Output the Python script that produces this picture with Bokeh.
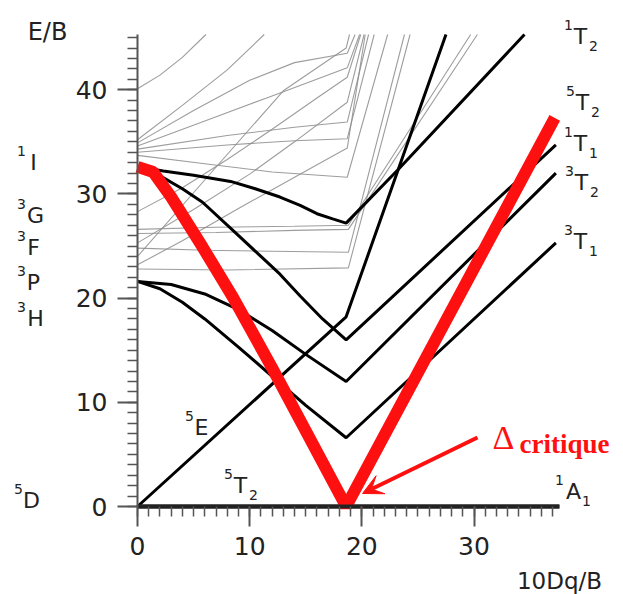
from bokeh.plotting import figure
from bokeh.models import Range1d, Label, Arrow, VeeHead, FixedTicker
from bokeh.embed import file_html
from bokeh.resources import INLINE

# ---------------- data ----------------
x_ticks = [0, 10, 20, 30]
y_ticks = [0, 10, 20, 30, 40]
x_minor = list(range(0, 38))
y_minor = list(range(0, 46))

ground_x = [0, 37.6]
ground_y = [0, 0]

e5_x = [0, 18.6, 27.5]
e5_y = [0, 18.2, 45.3]

t2s1_x = [0, 2.3, 5, 8.3, 10.5, 12.7, 14.5, 16.0, 17.4, 18.6, 23.2, 34.5]
t2s1_y = [32.6, 32.2, 31.8, 31.2, 30.5, 29.7, 28.9, 28.1, 27.6, 27.2, 32.3, 45.3]

t1s1_x = [0, 1.9, 4, 5.8, 8.7, 11.0, 12.7, 14.5, 16.5, 18.6, 37.3]
t1s1_y = [32.6, 31.8, 30.5, 29.2, 26.3, 24.0, 22.3, 20.2, 18.0, 16.0, 34.7]

t2s3_x = [0, 3, 6, 9, 12, 15, 18.6, 37.3]
t2s3_y = [21.6, 21.3, 20.4, 18.9, 16.9, 14.6, 12.0, 32.0]

t1s3_x = [0, 2, 4, 6, 9, 12, 15, 18.6, 37.3]
t1s3_y = [21.6, 20.9, 19.6, 18.0, 15.3, 12.5, 9.7, 6.6, 25.3]

red_x = [0, 1.4, 3, 5.8, 8.5, 12, 18.6, 37.2]
red_y = [32.6, 32.1, 29.7, 24.9, 20.1, 13.3, 0, 37.3]

g1_x = [0, 2, 4, 6.1];                 g1_y = [40.1, 41.4, 43.1, 45.3]
g2_x = [0, 4, 8, 11.3];                g2_y = [35.2, 38.5, 41.9, 45.3]
g3_x = [0, 5, 10, 14, 18.7, 19.4];     g3_y = [34.9, 38.0, 40.9, 42.6, 43.5, 45.3]
g4_x = [0, 6, 12, 18.7, 19.8];         g4_y = [34.6, 37.0, 39.4, 42.1, 45.3]
g5_x = [0, 8, 14, 18.7, 20.6];         g5_y = [34.3, 35.6, 36.4, 36.9, 45.3]
g6_x = [0, 8, 14, 18.7, 21.1];         g6_y = [34.0, 34.7, 35.1, 35.3, 45.3]
g7_x = [0, 6, 12, 18.7, 22.3];         g7_y = [33.7, 32.9, 32.1, 31.6, 45.3]
g8_x = [0, 4, 8, 12, 16, 18.7, 19.9];  g8_y = [28.3, 30.6, 33.3, 36.2, 39.2, 41.2, 45.3]
g9_x = [0, 5, 10, 14, 18.7, 20.2];     g9_y = [25.3, 28.5, 31.9, 35.0, 38.8, 45.3]
g10_x = [0, 6.7, 13.0, 18.6, 18.9];    g10_y = [24.0, 32.2, 39.9, 44.0, 45.3]
g11_x = [0, 7, 14, 18.8, 29.7];        g11_y = [26.6, 26.8, 26.9, 27.0, 45.3]
g12_x = [0, 7, 14, 18.8, 30.3];        g12_y = [26.2, 26.3, 26.5, 26.6, 45.3]
g13_x = [0, 6, 12, 18.8, 23.8];        g13_y = [24.8, 24.6, 24.5, 24.4, 45.3]
g14_x = [0, 8, 18.8, 24.3];            g14_y = [22.8, 22.7, 22.9, 45.3]
g15_x = [0, 4, 9, 14, 18.7, 20.3];     g15_y = [23.2, 25.5, 28.6, 31.6, 34.4, 45.3]

# ---------------- layout ----------------
W, H = 623, 594
L, R, T, B = 137, 62, 34, 88          # where the data box sits in the canvas
X0, X1 = 0, 37.8
Y0, Y1 = 0, 45.3


def dx(px):
    return X0 + (px - L) / (W - L - R) * (X1 - X0)


def dy(py):
    return Y0 + (H - B - py) / (H - T - B) * (Y1 - Y0)


# the frame covers the whole canvas so that annotations outside the data box are visible
p = figure(width=W, height=H, output_backend="svg", toolbar_location=None,
           x_range=Range1d(dx(0), dx(W)), y_range=Range1d(dy(H), dy(0)),
           min_border_left=0, min_border_right=0, min_border_top=0, min_border_bottom=0)
p.outline_line_color = None
p.xgrid.visible = False
p.ygrid.visible = False
p.background_fill_color = "white"
p.border_fill_color = "white"

p.xaxis.fixed_location = 0
p.yaxis.fixed_location = 0
p.xaxis.bounds = (0, 37.6)
p.yaxis.bounds = (0, 45.3)

for ax, ticks, minor in ((p.xaxis, x_ticks, x_minor), (p.yaxis, y_ticks, y_minor)):
    ax.ticker = FixedTicker(ticks=ticks, minor_ticks=minor)
    ax.major_tick_out = 20
    ax.major_tick_in = 0
    ax.minor_tick_out = 10
    ax.minor_tick_in = 0
    ax.major_label_text_font = "DejaVu Sans"
    ax.major_label_text_font_size = "25px"
    ax.major_label_text_color = "#222222"
    ax.major_label_standoff = 10
    ax.major_tick_line_width = 2
    ax.minor_tick_line_width = 1.5
    ax.major_tick_line_color = "#555555"
    ax.minor_tick_line_color = "#555555"
p.yaxis.axis_line_color = "#555555"
p.yaxis.axis_line_width = 2
p.xaxis.axis_line_color = "#222222"
p.xaxis.axis_line_width = 4

# gray background terms
gxs = [g1_x, g2_x, g3_x, g4_x, g5_x, g6_x, g7_x, g8_x, g9_x, g10_x, g11_x, g12_x, g13_x, g14_x, g15_x]
gys = [g1_y, g2_y, g3_y, g4_y, g5_y, g6_y, g7_y, g8_y, g9_y, g10_y, g11_y, g12_y, g13_y, g14_y, g15_y]
p.multi_line(xs=gxs, ys=gys, line_color="#8c8c8c", line_width=1.1, line_alpha=0.85)

# black terms
for xs, ys in ((e5_x, e5_y), (t2s1_x, t2s1_y), (t1s1_x, t1s1_y), (t2s3_x, t2s3_y), (t1s3_x, t1s3_y)):
    p.line(xs, ys, line_color="black", line_width=3)
p.line(ground_x, ground_y, line_color="#222222", line_width=4)

# red highlighted V
p.line(red_x, red_y, line_color="#ff1010", line_width=12, line_join="bevel")

# arrow to the critical field
p.add_layout(Arrow(x_start=dx(477), y_start=dy(437), x_end=dx(362), y_end=dy(493),
                   line_color="#ff1010", line_width=4,
                   end=VeeHead(size=20, fill_color="#ff1010", line_color="#ff1010", line_width=1)))


def lab(px, py, text, size, font="DejaVu Sans", color="#222222", align="center",
        baseline="middle", style="normal"):
    p.add_layout(Label(x=dx(px), y=dy(py), text=text, text_font=font,
                       text_font_size=f"{size}px", text_color=color, text_align=align,
                       text_baseline=baseline, text_font_style=style))


def term(px, py, sup, main, sub=None, sup_dx=-12, sup_dy=-12, sub_dx=13, sub_dy=9):
    lab(px, py, main, 22)
    lab(px + sup_dx, py + sup_dy, sup, 14)
    if sub:
        lab(px + sub_dx, py + sub_dy, sub, 14)


# axis titles
lab(47, 31, "E/B", 24)
lab(559, 580, "10Dq/B", 23)

# free ion terms
term(33, 162, "1", "I")
term(35, 215, "3", "G", sup_dx=-14)
term(33, 247, "3", "F")
term(33, 282, "3", "P")
term(35, 318, "3", "H", sup_dx=-14)
term(31, 500, "5", "D", sup_dx=-13)

# strong field terms
term(201, 427, "5", "E")
term(240, 485, "5", "T", "2")
term(573, 491, "1", "A", "1", sup_dx=-14)
term(580, 36, "1", "T", "2")
term(582, 102, "5", "T", "2")
term(580, 143, "1", "T", "1")
term(581, 182, "3", "T", "2")
term(580, 241, "3", "T", "1")

# Delta critique
lab(503, 437, "\u0394", 34, font="Liberation Serif", color="#ff1010", baseline="alphabetic")
lab(519, 443, "critique", 27, font="Liberation Serif", color="#ff1010", align="left",
    baseline="alphabetic", style="bold")

open("out.html", "w").write(file_html(p, INLINE))
